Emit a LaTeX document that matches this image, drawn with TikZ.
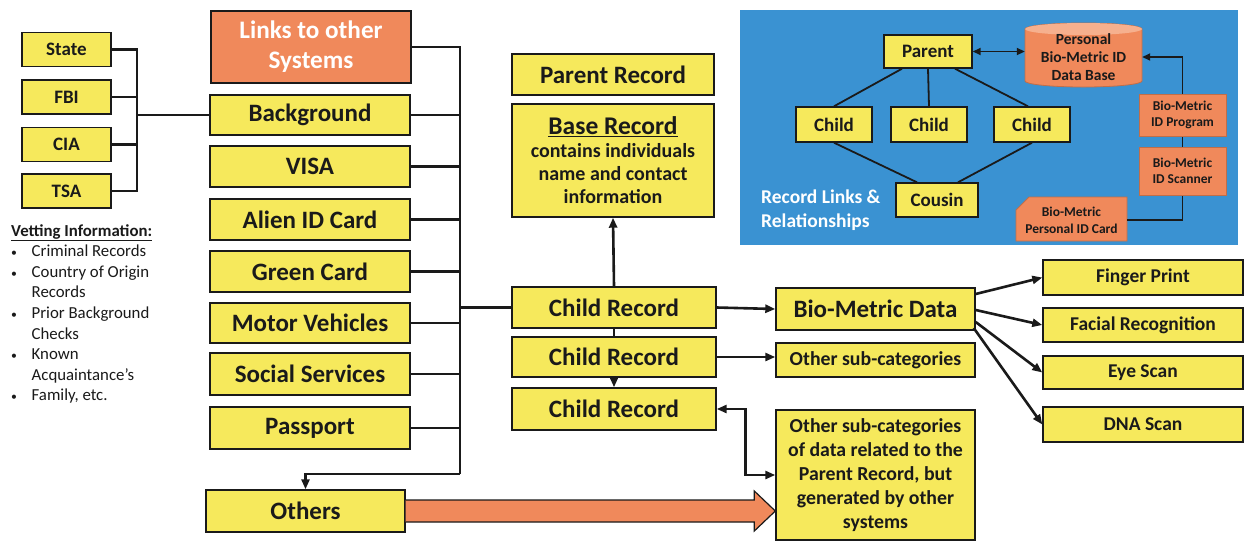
\documentclass[tikz,border=0pt]{standalone}
\usepackage{fontspec}
\setmainfont{Carlito}
\usetikzlibrary{arrows.meta,calc}
\definecolor{yel}{HTML}{F6E95C}
\definecolor{org}{HTML}{F0895B}
\definecolor{orglt}{HTML}{F6B08E}
\definecolor{panelblue}{HTML}{3A92D2}
\definecolor{ink}{HTML}{1A1A1A}
\begin{document}
\begin{tikzpicture}[x=1pt,y=-1pt,
  sz/.style 2 args={minimum width=#1pt, minimum height=#2pt},
  box/.style={draw=ink, line width=1.4pt, fill=yel, inner sep=0pt, align=center, text=ink,
              font=\bfseries\fontsize{25}{29}\selectfont},
  sbox/.style={box, font=\bfseries\fontsize{19}{22}\selectfont},
  rbox/.style={box, font=\bfseries\fontsize{19.8}{23}\selectfont},
  obox/.style={draw=ink, line width=1pt, fill=org, inner sep=0pt, align=center, text=ink,
              font=\bfseries\fontsize{13.5}{16.5}\selectfont},
  conn/.style={line width=2.6pt, draw=ink},
  tconn/.style={line width=1.8pt, draw=ink},
  arr/.style={conn, -{Triangle[length=10pt,width=8pt]}},
  darr/.style={conn, {Triangle[length=10pt,width=8pt]}-{Triangle[length=10pt,width=8pt]}},
  tarr/.style={tconn, -{Triangle[length=8pt,width=7pt]}},
  tdarr/.style={tconn, {Triangle[length=8pt,width=7pt]}-{Triangle[length=8pt,width=7pt]}},
]
\useasboundingbox (0,0) rectangle (1244,542);
\fill[white] (0,0) rectangle (1244,542);

% ---------- blue panel ----------
\fill[panelblue] (740,10) rectangle (1238,245);
\node[anchor=north west, inner sep=0pt, align=left, text=white,
      font=\bfseries\fontsize{19.5}{24}\selectfont] (rl) at (761,190) {Record Links \&\\Relationships};

% cylinder
\draw[line width=0.8pt, draw=org!80!black, fill=org] (1025,29) -- (1025,81)
   arc[start angle=180, end angle=0, x radius=58.5, y radius=6] -- (1142,29)
   arc[start angle=0, end angle=-180, x radius=58.5, y radius=6] -- cycle;
\fill[orglt] (1083.5,29) ellipse[x radius=58.5, y radius=6];
\node[inner sep=0pt, align=center, text=ink, font=\bfseries\fontsize{15.5}{18}\selectfont, sz={117}{64}]
  (db) at (1083.5,57) {Personal\\Bio-Metric ID\\Data Base};

% card shape
\draw[line width=0.8pt, draw=org!80!black, fill=org] (1029,197) -- (1127,197) -- (1127,241) -- (1016,241) -- (1016,210) -- cycle;
\node[inner sep=0pt, align=center, text=ink, font=\bfseries\fontsize{13.5}{17}\selectfont, sz={111}{44}]
  (card) at (1071.5,220) {Bio-Metric\\Personal ID Card};

\node[obox, draw=org!80!black, sz={87}{42}] (prog) at (1182.5,115) {Bio-Metric\\ID Program};
\node[obox, draw=org!80!black, sz={87}{48}] (scan) at (1182.5,171) {Bio-Metric\\ID Scanner};

\node[sbox, sz={88}{33}] (par) at (928,51.5) {Parent};
\node[sbox, sz={76}{35}] (ch1) at (834,124.5) {Child};
\node[sbox, sz={76}{35}] (ch2) at (929,124.5) {Child};
\node[sbox, sz={76}{35}] (ch3) at (1032,124.5) {Child};
\node[sbox, sz={82}{34}] (cous) at (937,200) {Cousin};

\draw[tconn] ($(par.south)+(-26,0)$) -- (ch1.north);
\draw[tconn] (par.south) -- (ch2.north);
\draw[tconn] ($(par.south)+(27,0)$) -- ($(ch3.north)+(-4,0)$);
\draw[tconn] (ch1.south) -- ($(cous.north)+(-20,0)$);
\draw[tconn] (ch3.south) -- ($(cous.north)+(21,0)$);
\draw[tdarr] (par.east) -- (par.east -| db.west);
\draw[tarr] (prog.north) |- (db.east);
\draw[tconn] (scan.north) -- (prog.south);
\draw[tconn] (card.east) -| (scan.south);

% ---------- left agencies ----------
\node[sbox, sz={89}{34}] (state) at (66.5,49.5) {State};
\node[sbox, sz={89}{34}] (fbi) at (66.5,97) {FBI};
\node[sbox, sz={89}{34}] (cia) at (66.5,144.5) {CIA};
\node[sbox, sz={89}{34}] (tsa) at (66.5,191) {TSA};

\node[anchor=north west, inner sep=0pt, align=left, text=ink,
      font=\fontsize{16.8}{20.6}\selectfont] (vet) at (11,224) {%
  \underline{\textbf{Vetting Information:}}\\
  \makebox[20.5pt][l]{\scalebox{0.7}{\textbullet}}Criminal Records\\
  \makebox[20.5pt][l]{\scalebox{0.7}{\textbullet}}Country of Origin\\
  \hspace*{20.5pt}Records\\
  \makebox[20.5pt][l]{\scalebox{0.7}{\textbullet}}Prior Background\\
  \hspace*{20.5pt}Checks\\
  \makebox[20.5pt][l]{\scalebox{0.7}{\textbullet}}Known\\
  \hspace*{20.5pt}Acquaintance's\\
  \makebox[20.5pt][l]{\scalebox{0.7}{\textbullet}}Family, etc.};

% ---------- systems column ----------
\node[box, fill=org, text=white, sz={200}{72}, font=\bfseries\fontsize{25.2}{30}\selectfont] (links) at (311,47) {Links to other\\Systems};
\node[box, sz={200}{40}] (bg) at (310,115) {Background};
\node[box, sz={200}{41}] (visa) at (310,166.5) {VISA};
\node[box, sz={200}{41}] (alien) at (310,219.5) {Alien ID Card};
\node[box, sz={200}{41}] (green) at (310,271.5) {Green Card};
\node[box, sz={200}{40}] (motor) at (310,323) {Motor Vehicles};
\node[box, sz={200}{42}] (social) at (310,374) {Social Services};
\node[box, sz={200}{42}] (pass) at (310,428) {Passport};
\node[box, sz={199}{42}] (others) at (305.5,511) {Others};

\coordinate (b1) at (137,115);
\draw[conn] (state.east) -| (b1);
\draw[conn] (fbi.east) -| (b1);
\draw[conn] (cia.east) -| (b1);
\draw[conn] (tsa.east) -| (b1);
\draw[conn] (b1) -- (bg.west);

\coordinate (b2) at (460,307.5);
\coordinate (b3) at (460,474);
\draw[conn] (links.east) -| (b2);
\draw[conn] (bg.east) -| (b2);
\draw[conn] (visa.east) -| (b2);
\draw[conn] (alien.east) -| (b2);
\draw[conn] (green.east) -| (b2);
\draw[conn] (motor.east) -| (b2);
\draw[conn] (social.east) -| (b2);
\draw[conn] (pass.east) -| (b2);
\draw[conn] (b2) -- (b3);
\draw[arr] (b3) -| (others.north);

% ---------- records column ----------
\node[box, sz={202}{41}] (parrec) at (613,74.5) {Parent Record};
\node[box, sz={202}{113}, font=\bfseries\fontsize{20}{23}\selectfont] (base) at (613,160.5)
  {{\fontsize{25.5}{27}\selectfont\underline{Base Record}}\\contains individuals\\name and contact\\information};
\node[box, sz={204}{41}] (cr1) at (614,307.5) {Child Record};
\node[box, sz={204}{40}] (cr2) at (614,357) {Child Record};
\node[box, sz={204}{42}] (cr3) at (614,409) {Child Record};
\draw[conn] (b2) -- (cr1.west);
\draw[arr] (cr1.north) -- (base.south);
\draw[conn] (cr1.south) -- (cr2.north);
\draw[arr] (cr2.south) -- (cr3.north);

% ---------- data column ----------
\node[box, sz={199}{42}] (bio) at (875.5,309) {Bio-Metric Data};
\node[rbox, sz={199}{34}] (osub) at (875.5,360) {Other sub-categories};
\node[box, sz={199}{130}, font=\bfseries\fontsize{19.8}{24}\selectfont] (bigb) at (875.5,475)
  {Other sub-categories\\of data related to the\\Parent Record, but\\generated by other\\systems};
\draw[arr] (cr1.east) -- (bio.west);
\draw[arr] (cr2.east) -- (cr2.east -| osub.west);
\draw[darr] (cr3.east) -- ++(29,0) |- (bigb.west);

% fat arrow
\coordinate (tip) at (bigb.west |- others.east);
\draw[line width=1.2pt, draw=ink, fill=org] ($(others.east)+(0,-11)$) -- ($(tip)+(-21,-11)$) -- ($(tip)+(-21,-20)$)
   -- (tip) -- ($(tip)+(-21,20)$) -- ($(tip)+(-21,11)$) -- ($(others.east)+(0,11)$);

% ---------- biometric types ----------
\node[rbox, sz={200}{35}, font=\bfseries\fontsize{19.5}{23}\selectfont] (fp) at (1143,277.5) {Finger Print};
\node[rbox, sz={200}{34}, font=\bfseries\fontsize{19.5}{23}\selectfont] (fr) at (1143,325) {Facial Recognition};
\node[rbox, sz={200}{33}, font=\bfseries\fontsize{19.5}{23}\selectfont] (eye) at (1143,372.5) {Eye Scan};
\node[rbox, sz={200}{35}, font=\bfseries\fontsize{19.5}{23}\selectfont] (dna) at (1143,424.5) {DNA Scan};
\draw[arr] ($(bio.east)+(0,-15)$) -- (fp.west);
\draw[arr] ($(bio.east)+(0,1)$) -- (fr.west);
\draw[arr] ($(bio.east)+(0,13)$) -- (eye.west);
\draw[arr] ($(bio.east)+(-2,19)$) -- (dna.west);
\end{tikzpicture}
\end{document}
